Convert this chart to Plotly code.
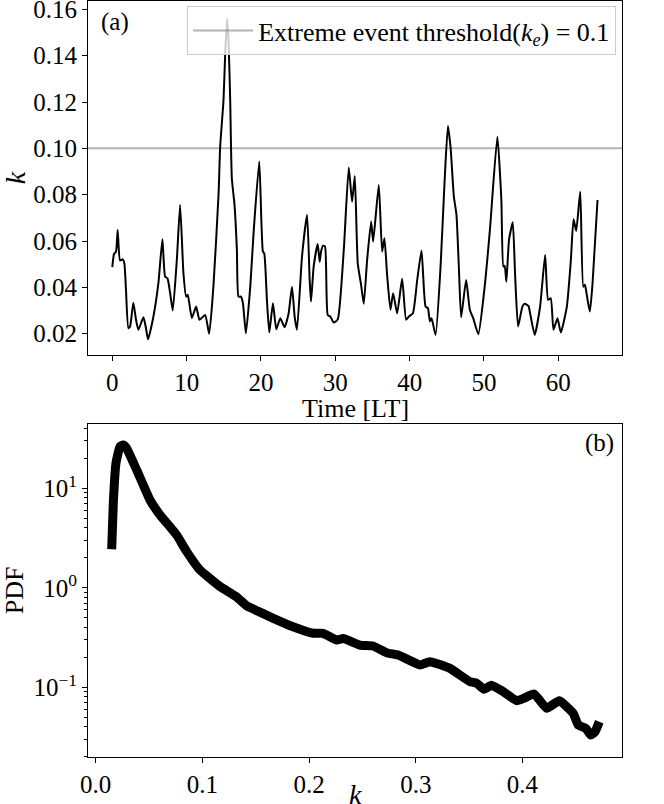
import plotly.graph_objects as go
from plotly.subplots import make_subplots

# ---- panel (a): time series of k ----
time_lt = [0, 0.23, 0.5, 0.72, 1.04, 1.4, 1.62, 1.84, 2.16, 2.39, 2.83, 3.19, 3.51, 4.18, 4.49, 4.81,
           5.53, 6.2, 6.74, 7.1, 7.42, 7.78, 8.13, 8.68, 9.12, 9.57, 9.93, 10.15, 10.7, 11.28, 11.73,
           12.49, 13.03, 13.6, 14.3, 14.51, 14.96, 15.2, 15.45, 15.65, 15.86, 16.08, 16.44, 16.76,
           16.98, 17.3, 17.57, 17.97, 18.56, 19.0, 19.77, 20.26, 20.44, 20.8, 21.12, 21.61, 22.06,
           22.6, 23.18, 23.72, 24.17, 24.53, 24.84, 25.52, 26.2, 26.55, 26.73, 27.09, 27.63, 27.9,
           28.08, 28.35, 28.62, 28.98, 29.34, 29.79, 30.33, 31.14, 31.81, 32.26, 32.62, 33.02, 33.47,
           33.83, 34.28, 34.82, 35.09, 35.85, 36.3, 36.61, 36.97, 37.42, 37.78, 38.32, 38.99, 39.53,
           39.9, 40.44, 41.02, 41.6, 42.14, 42.46, 42.73, 42.95, 43.49, 44.16, 44.7, 45.15, 45.5,
           45.95, 46.3, 46.62, 46.93, 47.6, 48.1, 48.55, 49.24, 50.0, 50.8, 51.8, 52.34, 52.61,
           52.79, 53.01, 53.37, 53.87, 54.18, 54.59, 55.17, 55.48, 55.98, 56.29, 56.83, 57.55,
           58.23, 58.63, 58.99, 59.35, 59.89, 60.34, 61.15, 61.69, 62.05, 62.41, 62.95, 63.36,
           63.58, 63.94, 64.25, 64.61, 65.28]
k_series = [0.0487, 0.0544, 0.0554, 0.0648, 0.0516, 0.0521, 0.0504, 0.0389, 0.0224, 0.0231, 0.0334,
            0.0260, 0.0217, 0.0271, 0.0231, 0.0176, 0.0274, 0.0418, 0.0608, 0.0447, 0.0439, 0.0375,
            0.0300, 0.0518, 0.0756, 0.0461, 0.0360, 0.0368, 0.0268, 0.0317, 0.0260, 0.0281, 0.0200,
            0.0403, 0.0806, 0.1007, 0.1208, 0.142, 0.156, 0.145, 0.1208, 0.0871, 0.0756, 0.0562,
            0.0360, 0.0360, 0.0332, 0.0202, 0.0403, 0.0633, 0.0943, 0.0554, 0.0547, 0.0346, 0.0205,
            0.0332, 0.0219, 0.0267, 0.0228, 0.0288, 0.0403, 0.0274, 0.0217, 0.0533, 0.0713, 0.0432,
            0.0339, 0.0490, 0.0587, 0.0511, 0.0554, 0.0580, 0.0576, 0.0281, 0.0274, 0.0248, 0.0262,
            0.0562, 0.0917, 0.0770, 0.0881, 0.0504, 0.0411, 0.0329, 0.0518, 0.0684, 0.0598, 0.0842,
            0.0554, 0.0612, 0.0454, 0.0303, 0.0375, 0.0288, 0.0437, 0.0260, 0.0274, 0.0288, 0.0432,
            0.0559, 0.0317, 0.0310, 0.0253, 0.0267, 0.0195, 0.0490, 0.0856, 0.1096, 0.1007, 0.0792,
            0.0713, 0.0490, 0.0271, 0.0432, 0.0303, 0.0267, 0.0198, 0.0375, 0.0648, 0.1050, 0.0777,
            0.0490, 0.0493, 0.0425, 0.0605, 0.0681, 0.0461, 0.0231, 0.0317, 0.0329, 0.0320, 0.0274,
            0.0195, 0.0317, 0.0540, 0.0346, 0.0353, 0.0217, 0.0267, 0.0205, 0.0317, 0.0518, 0.0694,
            0.0644, 0.0813, 0.0403, 0.0411, 0.0346, 0.0296, 0.0418, 0.0777]
k_threshold = 0.1
threshold_label = "Extreme event threshold(<i>k</i><sub><i>e</i></sub>) = 0.1"

# ---- panel (b): PDF of k ----
k_bins = [0.015, 0.0165, 0.019, 0.0228, 0.0259, 0.029, 0.0384, 0.0509, 0.0603, 0.0696, 0.0759,
          0.0853, 0.0977, 0.104, 0.1165, 0.132, 0.1415, 0.1525, 0.1665, 0.185, 0.204, 0.213, 0.226,
          0.232, 0.2477, 0.260, 0.2727, 0.2836, 0.304, 0.3133, 0.332, 0.3508, 0.357, 0.364, 0.371,
          0.382, 0.3946, 0.4023, 0.411, 0.4227, 0.4345, 0.4476, 0.4523, 0.4595, 0.4639, 0.468, 0.472]
pdf_vals = [2.44, 7.06, 17.8, 26.2, 27.2, 25.2, 15.3, 7.63, 5.39, 4.11, 3.39, 2.31, 1.51, 1.32, 1.03,
            0.81, 0.66, 0.58, 0.493, 0.406, 0.349, 0.349, 0.299, 0.31, 0.266, 0.26, 0.223, 0.211,
            0.168, 0.181, 0.155, 0.114, 0.11, 0.0955, 0.105, 0.0904, 0.0734, 0.0787, 0.0857, 0.0615,
            0.0734, 0.0548, 0.0418, 0.0387, 0.0331, 0.0358, 0.0451]

FONT = "Liberation Serif"

fig = make_subplots(rows=2, cols=1, vertical_spacing=0.0)

fig.add_trace(go.Scatter(x=time_lt, y=k_series, mode="lines", showlegend=False,
                         line=dict(color="black", width=2, shape="spline", smoothing=0.5)),
              row=1, col=1)
fig.add_shape(type="line", xref="x domain", yref="y", x0=0, x1=1, y0=k_threshold, y1=k_threshold,
              line=dict(color="rgba(128,128,128,0.6)", width=2), layer="below",
              showlegend=True, name=threshold_label)

fig.add_trace(go.Scatter(x=k_bins, y=pdf_vals, mode="lines", showlegend=False,
                         line=dict(color="black", width=9, shape="spline", smoothing=0.4)),
              row=2, col=1)

axis_common = dict(showline=True, linecolor="black", linewidth=1, mirror=True, automargin=False,
                   ticks="outside", ticklen=5, tickcolor="black", showgrid=False, zeroline=False,
                   ticklabeloverflow="allow",
                   tickfont=dict(family=FONT, size=25, color="black"))

fig.update_xaxes(domain=[0, 1])
fig.update_layout(
    xaxis=dict(axis_common, range=[-3.27, 68.57], tickvals=[0, 10, 20, 30, 40, 50, 60]),
    yaxis=dict(axis_common, domain=[0.532, 1.0], range=[0.0109, 0.1636],
               tickvals=[0.02, 0.04, 0.06, 0.08, 0.10, 0.12, 0.14, 0.16], tickformat=".2f",
               title=dict(text="<i>k</i>", font=dict(family=FONT, size=28, color="black"), standoff=12)),
    xaxis2=dict(axis_common, range=[-0.0072, 0.4933], tickvals=[0.0, 0.1, 0.2, 0.3, 0.4], tickformat=".1f"),
    yaxis2=dict(axis_common, type="log", domain=[0.0, 0.4405], range=[-1.70, 1.646],
                tickvals=[0.1, 1, 10], ticktext=["10<sup>\u22121</sup>", "10<sup>0</sup>", "10<sup>1</sup>"],
                minor=dict(ticks="outside", ticklen=3, tickcolor="black",
                           tickvals=[m * d for d in (0.01, 0.1, 1, 10) for m in range(2, 10)]),
                title=dict(text="PDF", font=dict(family=FONT, size=26, color="black"), standoff=12)),
    legend=dict(x=0.989, y=0.9934, xanchor="right", yanchor="top", itemwidth=60,
                bgcolor="rgba(255,255,255,0.8)", bordercolor="#cccccc", borderwidth=1,
                font=dict(family=FONT, size=26, color="black")),
    annotations=[
        dict(text="(a)", xref="x domain", yref="y domain", x=0.02, y=0.985, xanchor="left", yanchor="top",
             showarrow=False, font=dict(family=FONT, size=25, color="black")),
        dict(text="(b)", xref="x2 domain", yref="y2 domain", x=0.988, y=0.99, xanchor="right", yanchor="top",
             showarrow=False, font=dict(family=FONT, size=25, color="black")),
        dict(text="Time [LT]", xref="x domain", yref="paper", x=0.5, y=0.4616, xanchor="center",
             yanchor="middle", showarrow=False, font=dict(family=FONT, size=26, color="black")),
        dict(text="<i>k</i>", xref="x2 domain", yref="paper", x=0.5, y=-0.05, xanchor="center",
             yanchor="middle", showarrow=False, font=dict(family=FONT, size=28, color="black")),
    ],
    width=664, height=804,
    margin=dict(l=88, r=42, t=1, b=47),
    plot_bgcolor="white", paper_bgcolor="white",
    font=dict(family=FONT, color="black"),
)

fig.write_html("out.html", config={"displayModeBar": False},
               post_script="document.body.style.margin='0px';")
